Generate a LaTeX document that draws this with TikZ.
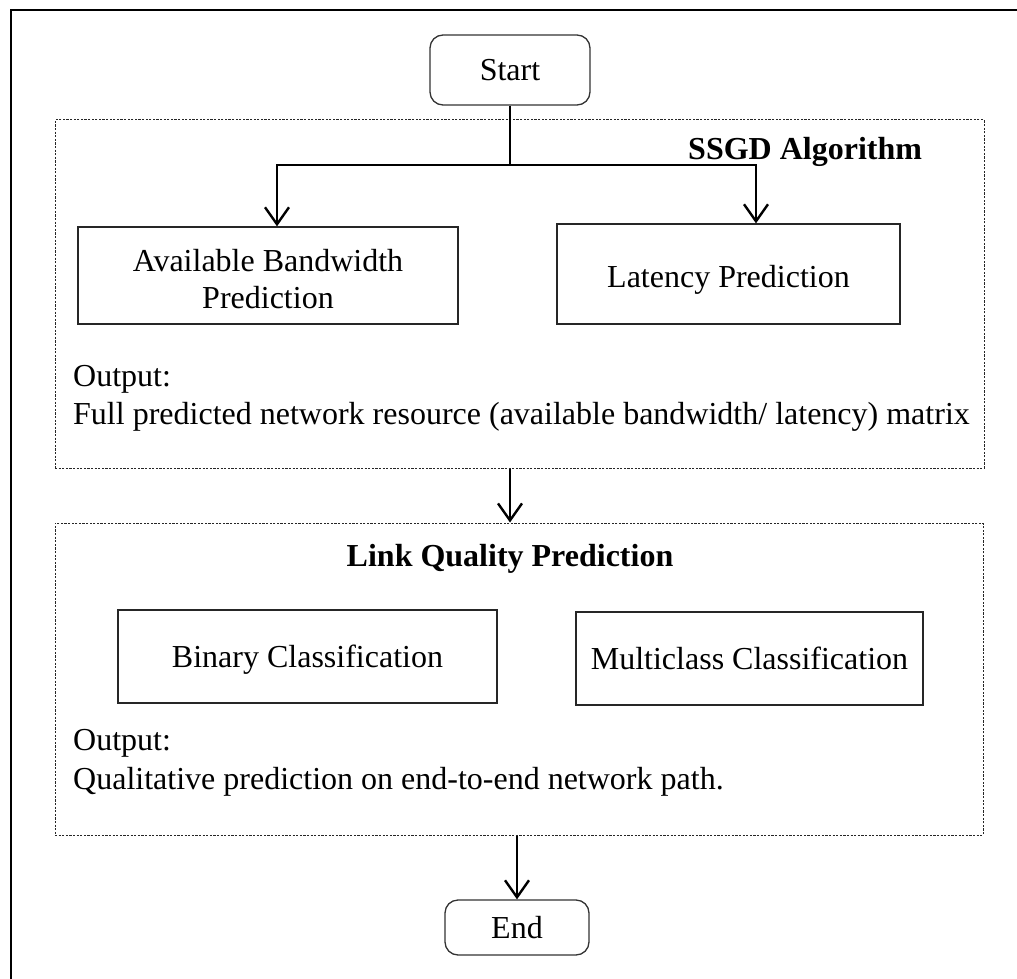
\documentclass[tikz,border=0pt]{standalone}
\usepackage{fontspec}
\setmainfont{Liberation Serif}
\usetikzlibrary{arrows.meta}
\begin{document}
\begin{tikzpicture}[x=1pt,y=-1pt,
  every node/.style={font=\fontsize{32}{40}\selectfont, inner sep=0pt},
  term/.style={draw=black!80, line width=1.3pt, rounded corners=13pt},
  proc/.style={draw=black!85, line width=1.3pt, align=center},
  group/.style={draw=black!85, line width=1pt, dash pattern=on 2.2pt off 1.4pt},
  arr/.style={line width=2.8pt, -{Straight Barb[length=17pt,width=24pt,line width=2.4pt]}},
  frame/.style={line width=2.8pt}]
\useasboundingbox (0,0) rectangle (1017,979);

% outer frame (top and left edges only)
\draw[frame] (1017,10) -- (11,10) -- (11,979);

% grouping regions
\node[group, minimum width=929, minimum height=348] (box1) at (519.5,294) {};
\node[group, minimum width=928, minimum height=312] (box2) at (519,679) {};

% terminals
\node[term, minimum width=160, minimum height=70] (start) at (510,70) {Start};
\node[term, minimum width=144, minimum height=55] (end) at (517,927.5) {End};

% SSGD stage
\node[font=\fontsize{32}{40}\selectfont\bfseries, anchor=base west] (ssgd) at (688,159) {SSGD Algorithm};
\node[proc, minimum width=380, minimum height=97] (abp) at (268,275.5) {};
\node[align=center, font=\fontsize{32}{37}\selectfont] (abptext) at ([yshift=-4pt]abp.center) {Available Bandwidth\\Prediction};
\node[proc, minimum width=343, minimum height=100, text height=34.5pt, text depth=7pt] (lat) at (728.5,274) {Latency Prediction};
\node[anchor=base west] (out1) at (73,386) {Output:};
\node[anchor=base west] (res1) at (73,424) {Full predicted network resource (available bandwidth/ latency) matrix};

% link quality stage
\node[font=\fontsize{32}{40}\selectfont\bfseries, anchor=base] (lqp) at (510,566) {Link Quality Prediction};
\node[proc, minimum width=379, minimum height=93, text height=28.5pt, text depth=7pt] (bin) at (307.5,656.5) {Binary Classification};
\node[proc, minimum width=347, minimum height=93] (multi) at (749.5,658.5) {Multiclass Classification};
\node[anchor=base west] (out2) at (73,750) {Output:};
\node[anchor=base west] (res2) at (73,789) {Qualitative prediction on end-to-end network path.};

% connectors
\coordinate (split) at (510,165);
\coordinate (abpin) at ([xshift=9pt]abp.north);
\coordinate (latin) at ([xshift=27.5pt]lat.north);
\draw[line width=2.8pt] (start.south) -- (split);
\draw[arr] (split) -| (abpin);
\draw[arr] (split) -| (latin);
\draw[arr] (box1.south -| start.south) -- (box2.north -| start.south);
\draw[arr] (box2.south -| end.north) -- (end.north);
\end{tikzpicture}
\end{document}
